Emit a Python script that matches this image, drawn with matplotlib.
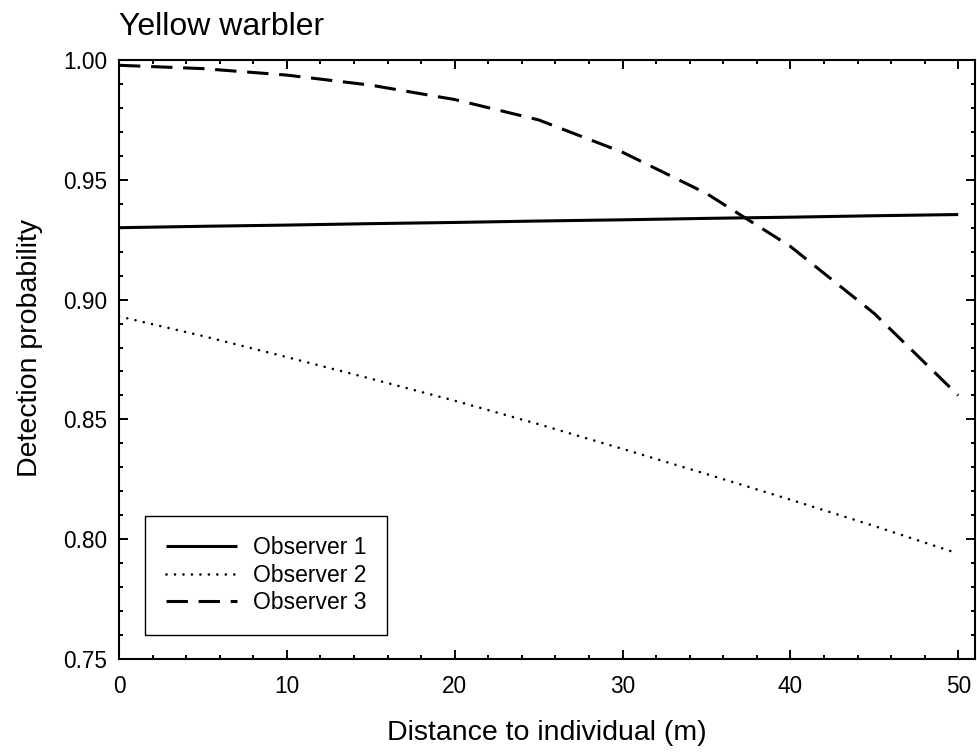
import matplotlib
matplotlib.use("Agg")
import matplotlib.pyplot as plt
from matplotlib.ticker import MultipleLocator, FormatStrFormatter

plt.rcParams['font.family'] = ['Liberation Sans', 'DejaVu Sans']

# Modelled detection probability by distance for each observer
distance = [0, 5, 10, 15, 20, 25, 30, 35, 40, 45, 50]
observer1 = [0.9300, 0.9306, 0.9311, 0.9317, 0.9322, 0.9328, 0.9333, 0.9339, 0.9344, 0.9350, 0.9355]
observer2 = [0.8930, 0.8848, 0.8760, 0.8670, 0.8578, 0.8480, 0.8377, 0.8272, 0.8165, 0.8055, 0.7940]
observer3 = [0.9978, 0.9964, 0.9937, 0.9895, 0.9835, 0.9750, 0.9615, 0.9443, 0.9222, 0.8942, 0.8600]
labels = ["Observer 1", "Observer 2", "Observer 3"]

fig = plt.figure(figsize=(9.77, 7.55), dpi=100)
ax = fig.add_axes([119 / 977, 96 / 755, 856 / 977, 599 / 755])

ax.plot(distance, observer1, color='black', lw=2.2, linestyle='-', label=labels[0],
        solid_capstyle='butt')
ax.plot(distance, observer2, color='black', lw=1.9, linestyle=(0, (0.01, 3.2)),
        dash_capstyle='round', label=labels[1])
ax.plot(distance, observer3, color='black', lw=2.2, linestyle=(0, (7, 3.5)), label=labels[2])

ax.set_xlim(0, 51)
ax.set_ylim(0.75, 1.00)
ax.xaxis.set_major_locator(MultipleLocator(10))
ax.xaxis.set_minor_locator(MultipleLocator(2))
ax.yaxis.set_major_locator(MultipleLocator(0.05))
ax.yaxis.set_minor_locator(MultipleLocator(0.01))
ax.yaxis.set_major_formatter(FormatStrFormatter('%.2f'))

for side in ax.spines.values():
    side.set_linewidth(1.5)

ax.tick_params(which='both', direction='in', top=True, right=True, width=1.4)
ax.tick_params(which='major', length=6.3, labelsize=16.3)
ax.tick_params(axis='y', which='major', pad=8.5)
ax.tick_params(axis='x', which='major', pad=11.5)
ax.tick_params(which='minor', length=3.1)

ax.set_title("Yellow warbler", loc='left', fontsize=23, pad=18)
ax.set_xlabel("Distance to individual (m)", fontsize=20.5)
ax.set_ylabel("Detection probability", fontsize=20.5)
ax.xaxis.set_label_coords(0.5, -0.102)
ax.yaxis.set_label_coords(-0.089, 0.52)

leg = ax.legend(loc='lower left', bbox_to_anchor=(0.0304, 0.040), borderaxespad=0,
                fontsize=16.5, frameon=True, fancybox=False, framealpha=1,
                edgecolor='black', handlelength=3.1, handletextpad=0.7,
                borderpad=0.9, labelspacing=0.2)
leg.get_frame().set_linewidth(1.0)

fig.savefig("out.png", dpi=100)
